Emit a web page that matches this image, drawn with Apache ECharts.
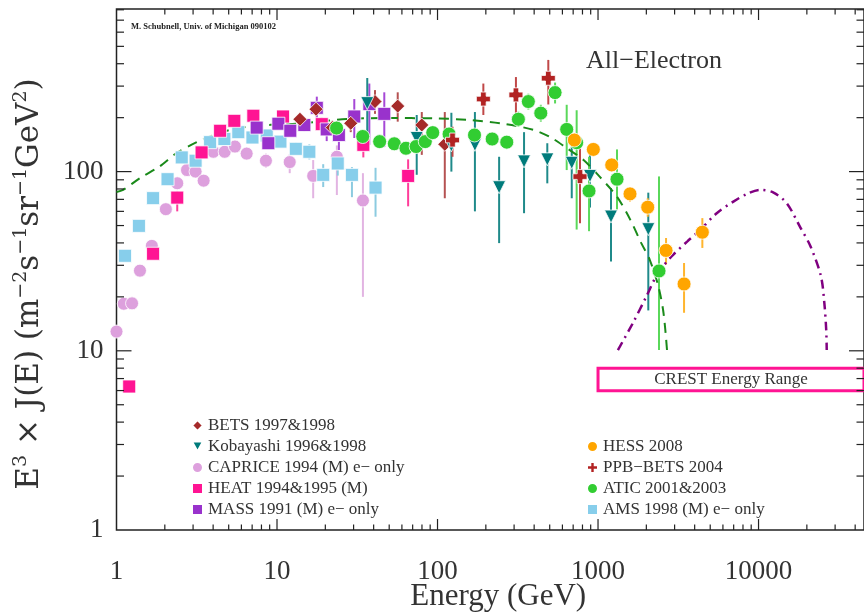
<!DOCTYPE html>
<html>
<head>
<meta charset="utf-8">
<script src="https://cdn.jsdelivr.net/npm/echarts@6/dist/echarts.min.js"></script>
<style>
  html, body { margin: 0; padding: 0; background: #fff; }
  #chart { width: 864px; height: 615px; }
</style>
</head>
<body>
<div id="chart"></div>
<script>
// each point: [energy (GeV), E^3 J(E), error low, error high]
const bets = [
  [13.9, 196, 185, 207], [17.5, 223, 205, 245], [22.1, 176, 160, 192],
  [28.8, 186, 166, 207], [40.8, 246, 210, 285], [56.5, 232, 190, 277],
  [79.8, 182, 124, 215], [111, 142, 71, 215]
];
const kobayashi = [
  [36.5, 241, 137, 333], [74.2, 154, 96, 207], [122, 140, 100, 213],
  [171, 141, 60, 215], [242, 81.8, 39.9, 121], [346, 114, 58.6, 166],
  [483, 117, 86, 144], [686, 112, 71, 138], [891, 94.6, 63, 127],
  [1205, 56.1, 31.5, 81], [2057, 47.7, 16.8, 76.3]
];
const caprice = [
  [1.0, 12.8, 12.2, 13.4], [1.11, 18.3, 17.3, 19.5], [1.25, 18.4, 17.2, 19.8],
  [1.40, 28.0, 26.5, 29.5], [1.66, 38.5, 36.5, 40.5], [2.03, 61.7, 58.5, 65],
  [2.39, 86.1, 81, 91], [2.75, 102, 96, 108], [3.11, 100, 94, 106],
  [3.49, 89, 83, 95], [4.01, 129, 121, 137], [4.72, 129, 121, 138],
  [5.47, 138, 128, 148], [6.47, 126, 116, 137], [8.53, 115, 105, 126],
  [12.0, 113, 98, 125], [16.8, 94.6, 71, 116], [23.6, 121, 74, 140],
  [34.3, 69, 20, 98]
];
const heat = [
  [1.20, 6.32, 6.0, 6.7], [1.69, 34.8, 33, 36.5], [2.39, 71.6, 60, 78],
  [3.39, 128, 121, 135], [4.42, 169, 160, 178], [5.42, 192, 181, 203],
  [7.12, 205, 193, 217], [10.9, 203, 190, 217], [19.0, 184, 165, 200],
  [34.5, 141, 120, 162], [65.6, 94.6, 64, 117]
];
const mass = [
  [7.47, 176, 166, 186], [8.83, 144, 134, 155], [10.2, 185, 174, 196],
  [12.1, 169, 158, 181], [14.8, 182, 168, 196], [17.7, 227, 199, 262],
  [20.4, 172, 148, 197], [24.3, 160, 132, 187], [30.3, 203, 154, 254],
  [37.6, 238, 141, 310], [46.6, 210, 137, 277]
];
const hess = [
  [712, 150, 140, 160], [935, 133, 124, 142], [1217, 109, 100, 118],
  [1582, 75.1, 68, 82], [2040, 63.3, 56, 71], [2653, 36.3, 30.3, 42.6],
  [3435, 23.6, 16.3, 30.9], [4466, 45.9, 37.5, 55]
];
const ppbBets = [
  [124, 150, 121, 178], [193, 254, 207, 310], [308, 268, 198, 337],
  [490, 332, 237, 420], [772, 93.8, 51.5, 147]
];
const atic = [
  [23.5, 175, 168, 182], [34.2, 157, 150, 164], [43.6, 147, 141, 153],
  [53.8, 143, 137, 149], [63.6, 135, 129, 141], [73.6, 138, 132, 144],
  [83.9, 147, 140, 154], [93.4, 165, 157, 173], [118, 162, 154, 170],
  [170, 160, 150, 170], [219, 152, 142, 162], [270, 146, 134, 158],
  [319, 196, 178, 216], [368, 246, 222, 272], [440, 212, 190, 236],
  [540, 276, 240, 314], [638, 172, 102, 236], [736, 145, 47.5, 220],
  [879, 78.0, 46.5, 121], [1313, 90.7, 61.5, 133], [2399, 27.9, 10.1, 94]
];
const ams = [
  [1.13, 33.9, 32.5, 35.3], [1.38, 49.8, 47.5, 52], [1.69, 71.1, 68, 74],
  [2.08, 90.7, 87, 95], [2.55, 120, 115, 125], [3.11, 115, 110, 120],
  [3.83, 146, 140, 152], [4.70, 152, 145, 159], [5.74, 166, 158, 174],
  [7.03, 155, 147, 163], [8.63, 159, 150, 168], [10.5, 147, 138, 156],
  [13.1, 134, 124, 145], [15.9, 129, 117, 142], [19.4, 95.9, 82, 110],
  [23.9, 111, 95, 128], [29.3, 95.9, 72, 106], [41.1, 81.4, 56, 105]
];

// model curves: [energy, E^3 J(E)]
const galacticCurve = [
  [1, 77], [1.1, 79], [1.4, 92], [1.86, 107], [2.37, 127], [3.16, 146],
  [3.83, 157], [5, 170], [7.1, 180], [11.8, 184], [16, 188], [28, 197],
  [47.5, 199], [99, 198], [159, 194], [257, 185], [395, 171], [515, 154],
  [640, 135], [813, 116], [1020, 94], [1310, 72.6], [1590, 53.8],
  [1860, 39.9], [2100, 32.2], [2380, 22.8], [2560, 16.2], [2690, 10.1]
];
const sourceCurve = [
  [1330, 10.1], [1650, 14.3], [2000, 20.1], [2360, 27.1], [2870, 33.6],
  [3590, 40.7], [4330, 47.3], [5490, 58.6], [6970, 68], [8480, 75.1],
  [10200, 79.1], [12400, 76.4], [15000, 66.6], [18100, 49.3], [21100, 38.2],
  [24500, 26], [25700, 18.5], [26400, 13.1], [26600, 10.1]
];

const xRange = [1, 45400];
const yRange = [1, 808];
const xMajorTicks = [10, 100, 1000, 10000];
const yMajorTicks = [10, 100];
const crestBox = [[1000, 8.0], [60000, 5.98]];

const FONT = '"Liberation Serif", "DejaVu Serif", serif';
const TEXT = '#333';
const TRI_DOWN = 'path://M0,0L10,0L5,9Z';
const CROSS = 'path://M3,0H7V3H10V7H7V10H3V7H0V3H3Z';

function minorTicks(lo, hi) {
  const out = [];
  for (let d = 1; d < hi; d *= 10) {
    for (let m = 2; m <= 9; m++) {
      const v = m * d;
      if (v > lo && v < hi) out.push(v);
    }
  }
  return out;
}

// tick items: [x, y, kind(0 = x tick, 1 = y tick), length]
const tickData = [];
xMajorTicks.forEach(v => tickData.push([v, yRange[0], 0, 11]));
minorTicks(xRange[0], xRange[1]).forEach(v => tickData.push([v, yRange[0], 0, 5.5]));
yMajorTicks.forEach(v => tickData.push([xRange[0], v, 1, 15]));
minorTicks(yRange[0], yRange[1]).forEach(v => tickData.push([xRange[0], v, 1, 7.5]));

function renderTick(params, api) {
  const cs = params.coordSys;
  const p = api.coord([api.value(0), api.value(1)]);
  const len = api.value(3);
  const style = { stroke: '#222', lineWidth: 1.2 };
  if (api.value(2) === 0) {
    const b = cs.y + cs.height, t = cs.y;
    return { type: 'group', children: [
      { type: 'line', shape: { x1: p[0], y1: b, x2: p[0], y2: b - len }, style },
      { type: 'line', shape: { x1: p[0], y1: t, x2: p[0], y2: t + len }, style }
    ] };
  }
  const l = cs.x, r = cs.x + cs.width;
  return { type: 'group', children: [
    { type: 'line', shape: { x1: l, y1: p[1], x2: l + len, y2: p[1] }, style },
    { type: 'line', shape: { x1: r, y1: p[1], x2: r - len, y2: p[1] }, style }
  ] };
}

function errorBars(points, color) {
  return {
    type: 'custom',
    silent: true,
    z: 1,
    clip: true,
    data: points.map(p => [p[0], p[1], p[2], p[3]]),
    encode: { x: 0, y: [1, 2, 3] },
    renderItem: (params, api) => {
      const hi = api.coord([api.value(0), api.value(3)]);
      const lo = api.coord([api.value(0), api.value(2)]);
      return {
        type: 'line',
        shape: { x1: hi[0], y1: hi[1], x2: lo[0], y2: lo[1] },
        style: { stroke: color, lineWidth: 2 }
      };
    }
  };
}

function markers(name, points, symbol, size, color) {
  return {
    name,
    type: 'scatter',
    z: 4,
    symbol,
    symbolSize: size,
    data: points.map(p => [p[0], p[1]]),
    itemStyle: { color, borderColor: '#fff', borderWidth: 0.8, opacity: 1 }
  };
}

const legendText = { fontFamily: FONT, fontSize: 17, color: TEXT, lineHeight: 17 };
const plainNumber = v => String(Math.round(v));

const chart = echarts.init(document.getElementById('chart'));
chart.setOption({
  animation: false,
  backgroundColor: '#fff',
  title: [
    {
      text: 'All\u2212Electron', left: 581, top: 43,
      textStyle: { fontFamily: FONT, fontSize: 26, fontWeight: 'normal', color: TEXT }
    },
    {
      text: 'M. Schubnell, Univ. of Michigan 090102', left: 126, top: 17,
      textStyle: { fontFamily: FONT, fontSize: 8.5, fontWeight: 'bold', color: '#222' }
    }
  ],
  graphic: [{
    type: 'text', x: 30, y: 284, rotation: Math.PI / 2,
    style: {
      text: 'E{s|3} \u00d7 J(E) (m{s|\u22122}s{s|\u22121}sr{s|\u22121}GeV{s|2})',
      font: '31px "DejaVu Serif", serif', fill: TEXT, align: 'center', verticalAlign: 'middle',
      rich: {
        s: { fontSize: 19, fontFamily: '"DejaVu Serif", serif', fill: TEXT, verticalAlign: 'top', lineHeight: 36 }
      }
    }
  }],
  legend: [
    {
      orient: 'vertical', left: 186, top: 412, itemWidth: 11, itemHeight: 11, itemGap: 4,
      textStyle: legendText, selectedMode: false,
      data: ['BETS 1997&1998', 'Kobayashi 1996&1998', 'CAPRICE 1994 (M) e\u2212 only',
             'HEAT 1994&1995 (M)', 'MASS 1991 (M) e\u2212 only']
    },
    {
      orient: 'vertical', left: 581, top: 433, itemWidth: 11, itemHeight: 11, itemGap: 4,
      textStyle: legendText, selectedMode: false,
      data: ['HESS 2008', 'PPB\u2212BETS 2004', 'ATIC 2001&2003', 'AMS 1998 (M) e\u2212 only']
    }
  ],
  grid: {
    left: 116.5, right: 0, top: 9, bottom: 85,
    containLabel: false, outerBoundsMode: 'none',
    show: true, borderColor: '#222', borderWidth: 1.5, backgroundColor: 'transparent'
  },
  xAxis: {
    type: 'log', logBase: 10, min: xRange[0], max: xRange[1],
    name: 'Energy (GeV)', nameLocation: 'middle', nameGap: 51, nameMoveOverlap: false,
    nameTextStyle: { fontFamily: FONT, fontSize: 31, color: TEXT, padding: [0, 0, 0, 16] },
    axisLine: { show: false }, axisTick: { show: false }, splitLine: { show: false },
    axisLabel: { fontFamily: FONT, fontSize: 27, color: TEXT, margin: 28, showMaxLabel: false, formatter: plainNumber }
  },
  yAxis: {
    type: 'log', logBase: 10, min: yRange[0], max: yRange[1],
    axisLine: { show: false }, axisTick: { show: false }, splitLine: { show: false },
    axisLabel: { fontFamily: FONT, fontSize: 27, color: TEXT, margin: 13, showMaxLabel: false, formatter: plainNumber }
  },
  series: [
    {
      type: 'custom', silent: true, clip: false, z: 5,
      data: tickData, encode: { x: 0, y: 1 }, renderItem: renderTick
    },
    errorBars(caprice, '#e2b4e2'),
    errorBars(ams, '#8ccbe0'),
    errorBars(heat, '#ff3d9a'),
    errorBars(mass, '#a648d6'),
    errorBars(bets, '#b55252'),
    errorBars(kobayashi, '#1f8a8a'),
    errorBars(atic, '#5ad85a'),
    errorBars(ppbBets, '#c04848'),
    errorBars(hess, '#ffb52e'),
    {
      type: 'line', z: 3, silent: true, symbol: 'none', smooth: 0.3,
      data: galacticCurve,
      lineStyle: { color: '#1a8a1a', width: 2, type: [10, 7] }
    },
    {
      type: 'line', z: 3, silent: true, symbol: 'none', smooth: 0.3,
      data: sourceCurve,
      lineStyle: { color: '#800080', width: 2.5, type: [9, 5, 2, 5] },
      markArea: {
        silent: true,
        itemStyle: { color: 'rgba(255,255,255,0)', borderColor: '#ff1493', borderWidth: 3 },
        label: {
          show: true, position: 'inside', formatter: 'CREST Energy Range',
          fontFamily: FONT, fontSize: 17, color: TEXT
        },
        data: [[{ coord: crestBox[0] }, { coord: crestBox[1] }]]
      }
    },
    markers('CAPRICE 1994 (M) e\u2212 only', caprice, 'circle', 13, '#dda0dd'),
    markers('AMS 1998 (M) e\u2212 only', ams, 'rect', 13, '#87ceeb'),
    markers('HEAT 1994&1995 (M)', heat, 'rect', 13, '#ff1493'),
    markers('MASS 1991 (M) e\u2212 only', mass, 'rect', 13, '#9932cc'),
    markers('BETS 1997&1998', bets, 'diamond', 14, '#a52a2a'),
    markers('Kobayashi 1996&1998', kobayashi, TRI_DOWN, 13, '#007b7b'),
    markers('ATIC 2001&2003', atic, 'circle', 14, '#32cd32'),
    markers('PPB\u2212BETS 2004', ppbBets, CROSS, 14, '#b22222'),
    markers('HESS 2008', hess, 'circle', 14, '#ffa500')
  ]
});
</script>
</body>
</html>
